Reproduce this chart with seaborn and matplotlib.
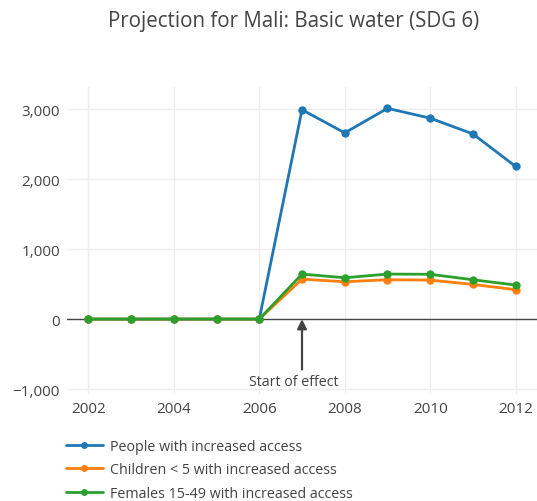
import numpy as np
import pandas as pd
import matplotlib.pyplot as plt
import seaborn as sns
from matplotlib.lines import Line2D

years = [2002, 2003, 2004, 2005, 2006, 2007, 2008, 2009, 2010, 2011, 2012]
people = [0, 0, 0, 0, 0, 2990, 2660, 3010, 2870, 2645, 2180]
children = [0, 0, 0, 0, 0, 571, 533, 562, 557, 495, 420]
females = [0, 0, 0, 0, 0, 643, 590, 643, 640, 562, 486]

series_names = [
    "People with increased access",
    "Children < 5 with increased access",
    "Females 15-49 with increased access",
]
colors = ["#1f77b4", "#ff7f0e", "#2ca02c"]

sns.set_theme(style="white")
plt.rcParams['font.family'] = ['Open Sans', 'DejaVu Sans']

df = pd.DataFrame({
    "Year": years * 3,
    "Value": people + children + females,
    "Series": [series_names[0]] * len(years) + [series_names[1]] * len(years)
              + [series_names[2]] * len(years),
})

fig = plt.figure(figsize=(5.37, 5.02), dpi=100)
ax = fig.add_axes([67 / 537, 1 - 395 / 502, 470 / 537, (395 - 88) / 502])

ax.set_xlim(2001.5, 2012.5)
ax.set_ylim(-1070, 3315)
ax.set_xticks([2002, 2004, 2006, 2008, 2010, 2012])
ax.set_yticks([-1000, 0, 1000, 2000, 3000])
ax.set_yticklabels(["\u22121,000", "0", "1,000", "2,000", "3,000"])
ax.grid(True, color="#eeeeee", linewidth=1)
ax.set_axisbelow(True)
ax.axhline(0, color="#444444", linewidth=1, zorder=1)
for s in ax.spines.values():
    s.set_visible(False)
ax.tick_params(axis="both", colors="#444444", labelsize=11, length=0, pad=5)

sns.lineplot(data=df, x="Year", y="Value", hue="Series", hue_order=series_names,
             palette=colors, marker="o", markersize=6, markeredgewidth=0,
             linewidth=2, ax=ax, legend=False, zorder=3)
ax.set_xlabel("")
ax.set_ylabel("")

# annotation: vertical arrow, text slightly left of it like plotly
ax.annotate("", xy=(2007, 0), xytext=(2007, -720),
            arrowprops=dict(arrowstyle="-|>", color="#444444", lw=1.6,
                            shrinkA=0, shrinkB=0, mutation_scale=14))
ax.text(2006.8, -890, "Start of effect", ha="center", va="center",
        fontsize=10.3, color="#444444")

fig.text(294 / 537, 1 - 22 / 502, "Projection for Mali: Basic water (SDG 6)",
         ha="center", va="center", fontsize=14.8, color="#444444")

handles = [Line2D([0], [0], color=c, marker="o", markersize=5, markeredgewidth=0,
                  linewidth=2) for c in colors]
fig.legend(handles, series_names, loc="upper left",
           bbox_to_anchor=(60 / 537, 1 - 434 / 502), frameon=False,
           fontsize=10.3, labelcolor="#444444", handlelength=2.6,
           labelspacing=0.6, handletextpad=0.5, borderaxespad=0)

fig.savefig("out.png", dpi=100)
